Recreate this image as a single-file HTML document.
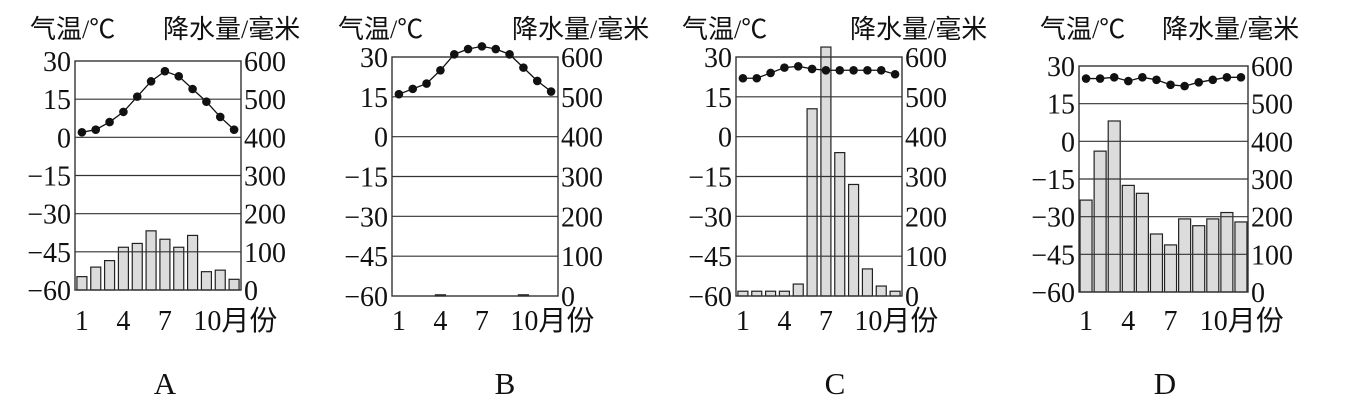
<!DOCTYPE html>
<html><head><meta charset="utf-8"><style>
html,body{margin:0;padding:0;background:#fff;}
svg{display:block}
text{font-family:"Liberation Serif","Noto Serif CJK SC",serif;fill:#111}
.cj{font-family:"Liberation Serif","Noto Sans CJK SC",sans-serif}
</style></head><body>
<svg id="s" width="1350" height="410" xmlns="http://www.w3.org/2000/svg"></svg>
<script>
const charts=[
 {l:75,r:241,t:61,b:290,bw:10,letter:'A',lx:165,tt:[30,163],
  T:[2,3,6,10,16,22,26,24,19,14,8,3],
  P:[35,60,77,112,122,155,133,112,143,48,52,28]},
 {l:392,r:558,t:57,b:296,bw:10,letter:'B',lx:505,tt:[338,512],
  T:[16,18,20,25,31,33,34,33,31,26,21,17],
  P:[0,0,0,3,0,0,0,0,0,3,0,0]},
 {l:736,r:902,t:57,b:296,bw:10,letter:'C',lx:835,tt:[682,850],
  T:[22,22,24,26,26.5,25.5,25,25,25,25,25,23.5],
  P:[12,12,12,12,30,470,625,360,280,68,25,12]},
 {l:1079,r:1248,t:66,b:292,bw:12,letter:'D',lx:1165,tt:[1040,1162],
  T:[25,25,25.5,24,25.5,24.5,22.5,22,23.5,24.5,25.5,25.5],
  P:[244,374,454,283,262,154,125,194,176,194,211,186]}
];
let h='';
for(const c of charts){
 const H=c.b-c.t, sw=(c.r-c.l)/12;
 const yT=v=>c.b-(v+60)/90*H, yP=v=>c.b-v/600*H;
 c.P.forEach((p,i)=>{if(p<=0)return;const x=c.l+sw*i+(sw-c.bw)/2,y=yP(p);
  h+=`<rect x="${x}" y="${y}" width="${c.bw}" height="${c.b-y}" fill="#dcdcdc" stroke="#222" stroke-width="1.2"/>`;});
 for(let i=1;i<6;i++){const y=c.t+H*i/6;h+=`<line x1="${c.l}" x2="${c.r}" y1="${y}" y2="${y}" stroke="#333" stroke-width="1.2"/>`;}
 h+=`<rect x="${c.l}" y="${c.t}" width="${c.r-c.l}" height="${H}" fill="none" stroke="#333" stroke-width="1.4"/>`;
 const pts=c.T.map((t,i)=>[c.l+sw*(i+0.5),yT(t)]);
 h+=`<polyline points="${pts.map(p=>p.join(',')).join(' ')}" fill="none" stroke="#111" stroke-width="1.3"/>`;
 pts.forEach(p=>h+=`<circle cx="${p[0]}" cy="${p[1]}" r="4.3" fill="#111"/>`);
 const tl=['30','15','0','−15','−30','−45','−60'], pl=['600','500','400','300','200','100','0'];
 for(let i=0;i<7;i++){const y=c.t+H*i/6+10;
  h+=`<text x="${c.l-4}" y="${y}" font-size="28" text-anchor="end">${tl[i]}</text>`;
  h+=`<text x="${c.r+3}" y="${y}" font-size="28">${pl[i]}</text>`;}
 [[0,'1'],[3,'4'],[6,'7']].forEach(([i,s])=>h+=`<text x="${c.l+sw*(i+0.5)}" y="330" font-size="28" text-anchor="middle">${s}</text>`);
 h+=`<text x="${c.l+sw*9.5-13}" y="330" font-size="28">10<tspan class="cj">月份</tspan></text>`;
 h+=`<text class="cj" x="${c.tt[0]}" y="38" font-size="26">气温/℃</text>`;
 h+=`<text class="cj" x="${c.tt[1]}" y="38" font-size="26">降水量/毫米</text>`;
 h+=`<text x="${c.lx}" y="394" font-size="31" text-anchor="middle">${c.letter}</text>`;
}
document.getElementById('s').innerHTML=h;
</script>
</body></html>
